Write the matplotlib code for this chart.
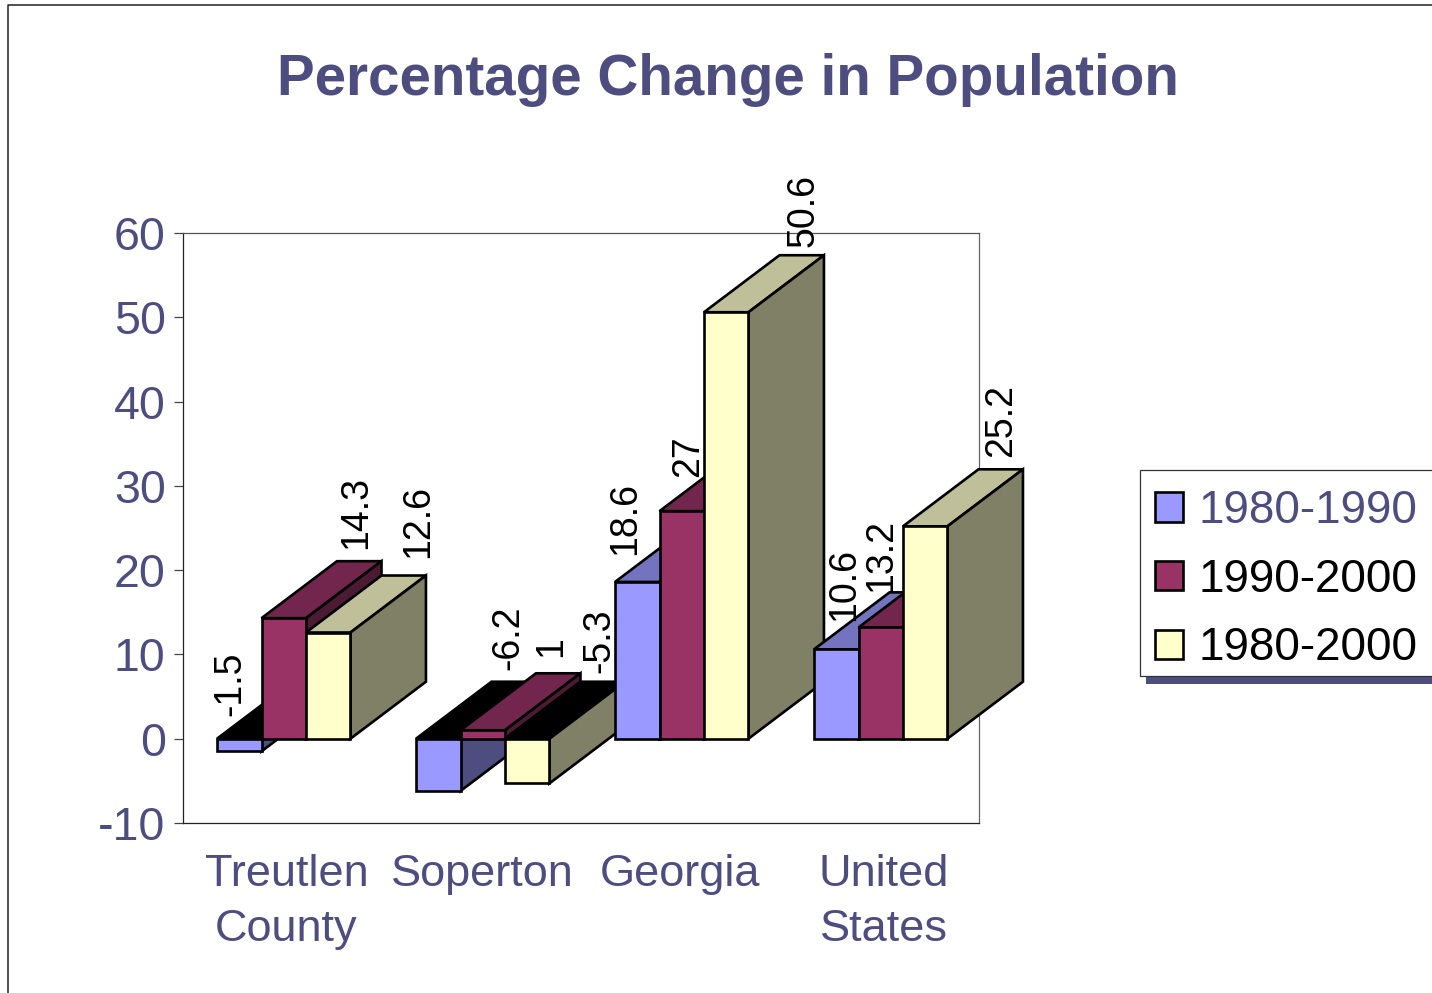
import matplotlib
matplotlib.use("Agg")
import matplotlib.pyplot as plt
from matplotlib.patches import Patch, Rectangle
from matplotlib.lines import Line2D

plt.rcParams['font.family'] = ['Liberation Sans', 'DejaVu Sans']
plt.rcParams['axes.unicode_minus'] = False

categories = ["Treutlen\nCounty", "Soperton", "Georgia", "United\nStates"]
series_names = ["1980-1990", "1990-2000", "1980-2000"]
v_1980_1990 = [-1.5, -6.2, 18.6, 10.6]
v_1990_2000 = [14.3, 1, 27, 13.2]
v_1980_2000 = [12.6, -5.3, 50.6, 25.2]
series_values = [v_1980_1990, v_1990_2000, v_1980_2000]
y_ticks = [-10, 0, 10, 20, 30, 40, 50, 60]

W, H = 1432, 993
NAVY = '#4D4D80'
colors = [(0x99/255, 0x99/255, 1.0), (0x99/255, 0x33/255, 0x66/255), (1.0, 1.0, 0xCC/255)]
LW = 1.9


def shade(c, k):
    return tuple(x * k for x in c)


fig = plt.figure(figsize=(W / 100, H / 100), dpi=100, facecolor='white')
ax = fig.add_axes([183 / W, (H - 823) / H, 796 / W, 590 / H])
ax.set_xlim(0, 4)
ax.set_ylim(-10, 60)

# page border (runs past the image on the right and bottom)
fig.add_artist(Line2D([8 / W, 8 / W, 1], [0, 1 - 5 / H, 1 - 5 / H], color='#222222', lw=1.1))

bar_w = 0.2235
group_off = 0.171
depth_x = 75.5 / 199
depth_y = 57 / (590 / 70)

z = 5
for g in range(len(categories)):
    for s, values in enumerate(series_values):
        v = values[g]
        c = colors[s]
        x0 = g + group_off + s * bar_w
        x1 = x0 + bar_w
        kw = dict(edgecolor='black', linewidth=LW, clip_on=False, joinstyle='miter')
        top = max(v, 0)
        low = min(v, 0)
        top_col = 'black' if v < 0 else shade(c, 0.75)
        ax.fill([x0, x1, x1 + depth_x, x0 + depth_x], [top, top, top + depth_y, top + depth_y],
                facecolor=top_col, zorder=z, **kw)
        ax.fill([x1, x1 + depth_x, x1 + depth_x, x1], [low, low + depth_y, top + depth_y, top],
                facecolor=shade(c, 0.5), zorder=z, **kw)
        ax.bar(x0, v, width=bar_w, align='edge', color=[c], zorder=z + 0.5, **kw)
        z += 1

ax.set_yticks(y_ticks)
ax.set_xticks([0.52, 1.505, 2.50, 3.52])
ax.set_xticklabels(categories, linespacing=1.46)
ax.tick_params(axis='y', length=6.5, width=0.9, color='#444444', labelsize=33.5, labelcolor=NAVY, pad=6)
ax.tick_params(axis='x', length=0, labelsize=32.5, labelcolor=NAVY, pad=22)
for side, col in dict(left='#222222', bottom='#222222', top='#555555', right='#666666').items():
    ax.spines[side].set_color(col)
    ax.spines[side].set_linewidth(0.9)

# data labels: hand-placed in the original, so their anchors are listed in image pixels
label_x = [[230, 508, 625, 844], [356, 551, 688, 881], [418, 599, 804, 1001]]
label_y = [[716, 670, 555, 621], [549, 657, 477, 592], [558, 673, 247, 457]]
for s, values in enumerate(series_values):
    for g, v in enumerate(values):
        fig.text(label_x[s][g] / W, 1 - label_y[s][g] / H, str(v), rotation=90,
                 ha='center', va='bottom', fontsize=27, color='black', zorder=50)

fig.text(728 / W, 1 - 80 / H, "Percentage Change in Population", ha='center', va='center',
         fontsize=40.7, fontweight='bold', color=NAVY)

# legend box and shadow (both run past the right edge of the image)
fig.add_artist(Rectangle((1146 / W, 1 - 684 / H), 300 / W, 20 / H, facecolor=NAVY, edgecolor='none',
                         transform=fig.transFigure, zorder=1))
fig.add_artist(Rectangle((1140 / W, 1 - 675.5 / H), 300 / W, 206 / H, facecolor='white', edgecolor='#333333',
                         linewidth=0.9, transform=fig.transFigure, zorder=2))
handles = [Patch(facecolor=c, edgecolor='black', linewidth=LW) for c in colors]
leg = fig.legend(handles, series_names, loc='upper left', bbox_to_anchor=(1155 / W, 1 - 489 / H),
                 frameon=False, fontsize=33, borderpad=0, borderaxespad=0, handlelength=0.61,
                 handleheight=0.61, handletextpad=0.33, labelspacing=0.54)
leg.set_zorder(10)
for t, col in zip(leg.get_texts(), [NAVY, 'black', 'black']):
    t.set_color(col)

fig.savefig('out.png', dpi=100)
